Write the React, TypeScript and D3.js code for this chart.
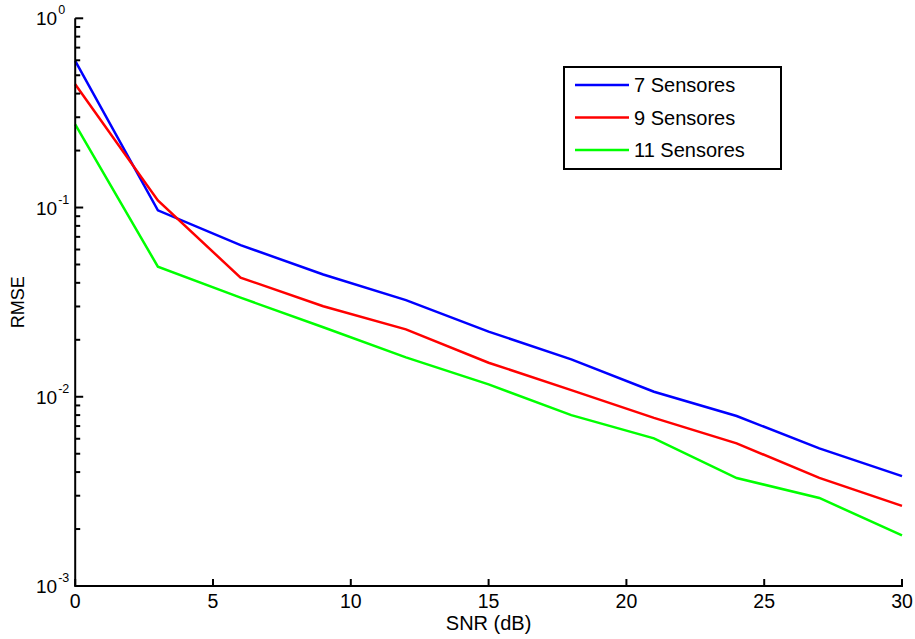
import React from "react";
import * as d3 from "d3";

const snr = [0, 3, 6, 9, 12, 15, 18, 21, 24, 27, 30];
const rmse7 = [0.595, 0.0966, 0.0633, 0.0443, 0.0324, 0.0221, 0.01576, 0.01063, 0.00791, 0.00534, 0.00381];
const rmse9 = [0.448, 0.109, 0.0426, 0.0301, 0.0227, 0.01513, 0.01085, 0.00774, 0.00567, 0.00373, 0.00265];
const rmse11 = [0.275, 0.0487, 0.0334, 0.0233, 0.01616, 0.01163, 0.008, 0.00603, 0.00372, 0.00292, 0.00185];
const seriesNames = ["7 Sensores", "9 Sensores", "11 Sensores"];
const seriesColors = ["#0000ff", "#ff0000", "#00ff00"];
const xTicks = [0, 5, 10, 15, 20, 25, 30];
const yExps = [0, -1, -2, -3];

const W = 915;
const H = 639;
const m = { left: 75.2, right: 13, top: 18.3, bottom: 53 };

export default function App() {
  const x = d3.scaleLinear().domain([0, 30]).range([m.left, W - m.right]);
  const y = d3.scaleLog().domain([1e-3, 1]).range([H - m.bottom, m.top]);
  const series = [rmse7, rmse9, rmse11];
  const line = d3
    .line<[number, number]>()
    .x((d) => x(d[0]))
    .y((d) => y(d[1]));
  const minor: number[] = [];
  for (let e = -3; e < 0; e++) {
    for (let k = 2; k <= 9; k++) minor.push(k * Math.pow(10, e));
  }
  const font = "Liberation Sans, Arial, sans-serif";
  const x0 = x(0);
  const yb = y(1e-3);
  const legX = 564;
  const legY = 67;
  return (
    <svg width={W} height={H} style={{ position: "absolute", left: 0, top: 0, background: "#fff" }} fontFamily={font}>
      <rect width={W} height={H} fill="#fff" />
      {series.map((s, i) => (
        <path
          key={i}
          d={line(snr.map((v, j) => [v, s[j]] as [number, number])) || ""}
          fill="none"
          stroke={seriesColors[i]}
          strokeWidth={2.5}
        />
      ))}
      {/* axes */}
      <line x1={x0} x2={x0} y1={y(1)} y2={yb} stroke="#000" strokeWidth={2} />
      <line x1={x0 - 1} x2={x(30) + 1} y1={yb} y2={yb} stroke="#000" strokeWidth={2} />
      {minor.map((v, i) => (
        <line key={"mi" + i} x1={x0} x2={x0 + 5} y1={y(v)} y2={y(v)} stroke="#000" strokeWidth={2} />
      ))}
      {yExps.map((e) => (
        <g key={"ye" + e}>
          <line x1={x0} x2={x0 + 8} y1={y(Math.pow(10, e))} y2={y(Math.pow(10, e))} stroke="#000" strokeWidth={2} />
          <text x={x0 - 18} y={y(Math.pow(10, e)) + 7} fontSize={19} textAnchor="end" fill="#000">
            10
          </text>
          <text x={x0 - 17} y={y(Math.pow(10, e)) - 4} fontSize={12.5} textAnchor="start" fill="#000">
            {e}
          </text>
        </g>
      ))}
      {xTicks.map((t) => (
        <g key={"xt" + t}>
          <line x1={x(t)} x2={x(t)} y1={yb} y2={yb - 7} stroke="#000" strokeWidth={2} />
          <text x={x(t)} y={yb + 22} fontSize={19.5} textAnchor="middle" fill="#000">
            {t}
          </text>
        </g>
      ))}
      <text x={(x0 + x(30)) / 2} y={yb + 44} fontSize={20} textAnchor="middle" fill="#000">
        SNR (dB)
      </text>
      <text
        transform={`translate(24, ${(y(1) + yb) / 2}) rotate(-90)`}
        fontSize={18}
        textAnchor="middle"
        fill="#000"
      >
        RMSE
      </text>
      {/* legend */}
      <rect x={legX} y={legY} width={217} height={102} fill="#fff" stroke="#000" strokeWidth={2} />
      {seriesNames.map((n, i) => (
        <g key={"lg" + i}>
          <line
            x1={legX + 11}
            x2={legX + 65}
            y1={legY + 18 + i * 32.5}
            y2={legY + 18 + i * 32.5}
            stroke={seriesColors[i]}
            strokeWidth={2.5}
          />
          <text x={legX + 70} y={legY + 18 + i * 32.5 + 7} fontSize={20} fill="#000">
            {n}
          </text>
        </g>
      ))}
    </svg>
  );
}
